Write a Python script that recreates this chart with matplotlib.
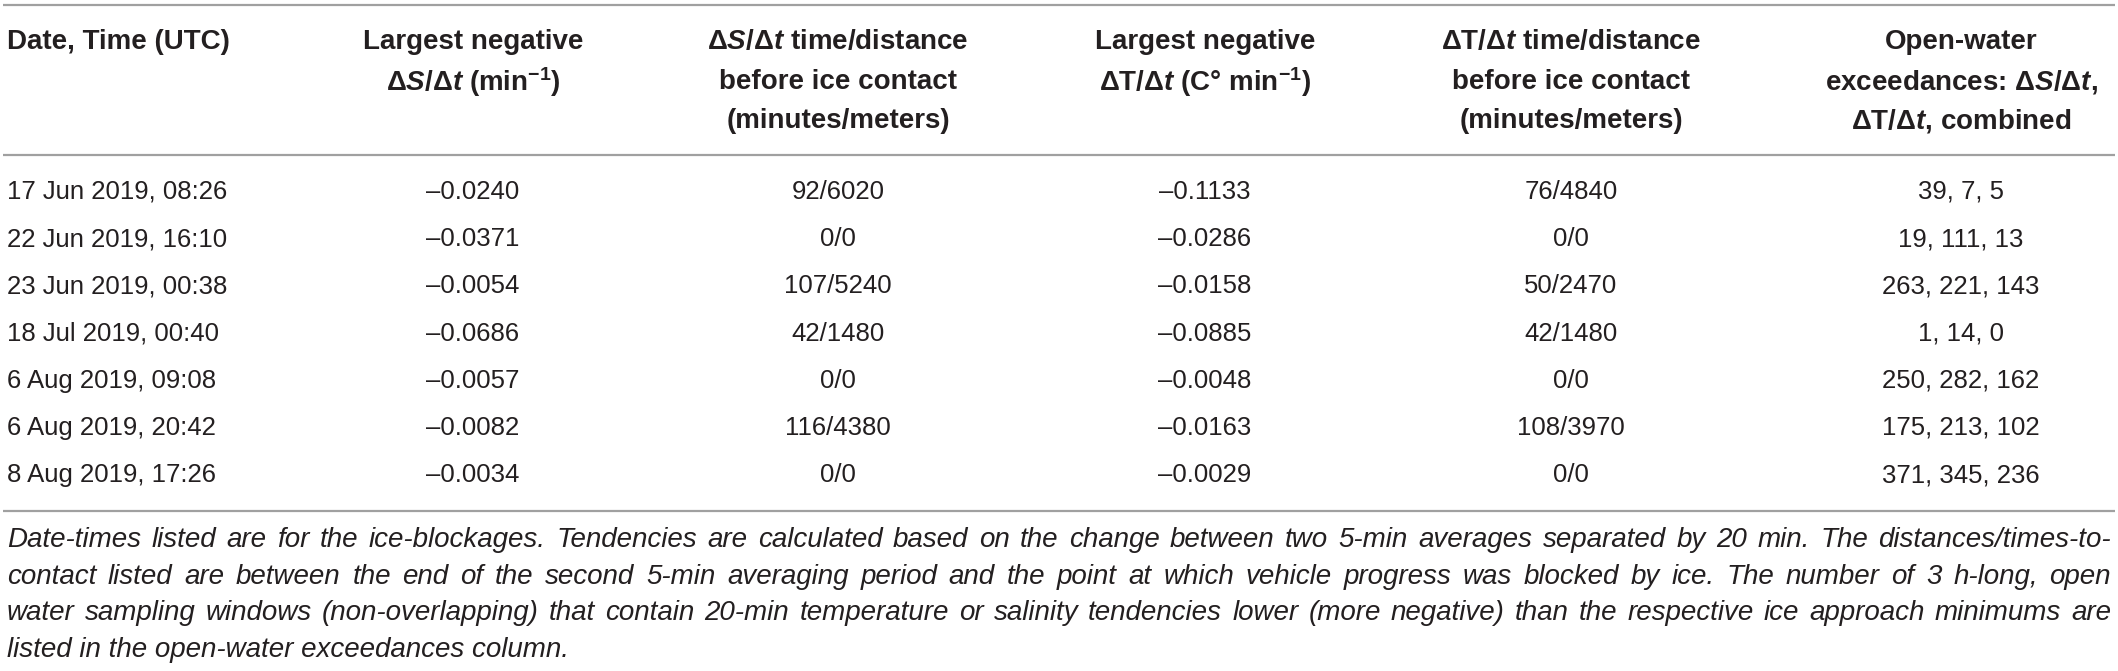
import matplotlib
matplotlib.use("Agg")
import matplotlib.pyplot as plt

plt.rcParams['font.family'] = ['Liberation Sans', 'DejaVu Sans']
plt.rcParams['mathtext.fontset'] = 'custom'
plt.rcParams['mathtext.rm'] = 'Liberation Sans:bold'
plt.rcParams['mathtext.it'] = 'Liberation Sans:bold:italic'
plt.rcParams['mathtext.bf'] = 'Liberation Sans:bold'

# table data
headers = [
    ["Date, Time (UTC)"],
    ["Largest negative", r"Δ$\mathit{S}$/Δ$\mathit{t}$ (min$^{-1}$)"],
    [r"Δ$\mathit{S}$/Δ$\mathit{t}$ time/distance", "before ice contact", "(minutes/meters)"],
    ["Largest negative", r"ΔT/Δ$\mathit{t}$ (C° min$^{-1}$)"],
    [r"ΔT/Δ$\mathit{t}$ time/distance", "before ice contact", "(minutes/meters)"],
    ["Open-water", r"exceedances: Δ$\mathit{S}$/Δ$\mathit{t}$,", r"ΔT/Δ$\mathit{t}$, combined"],
]
dates = ["17 Jun 2019, 08:26", "22 Jun 2019, 16:10", "23 Jun 2019, 00:38",
         "18 Jul 2019, 00:40", "6 Aug 2019, 09:08", "6 Aug 2019, 20:42",
         "8 Aug 2019, 17:26"]
ds_min = [-0.0240, -0.0371, -0.0054, -0.0686, -0.0057, -0.0082, -0.0034]
ds_before = ["92/6020", "0/0", "107/5240", "42/1480", "0/0", "116/4380", "0/0"]
dt_min = [-0.1133, -0.0286, -0.0158, -0.0885, -0.0048, -0.0163, -0.0029]
dt_before = ["76/4840", "0/0", "50/2470", "42/1480", "0/0", "108/3970", "0/0"]
exceed = ["39, 7, 5", "19, 111, 13", "263, 221, 143", "1, 14, 0",
          "250, 282, 162", "175, 213, 102", "371, 345, 236"]
caption = [
    "Date-times listed are for the ice-blockages. Tendencies are calculated based on the change between two 5-min averages separated by 20 min. The distances/times-to-",
    "contact listed are between the end of the second 5-min averaging period and the point at which vehicle progress was blocked by ice. The number of 3 h-long, open",
    "water sampling windows (non-overlapping) that contain 20-min temperature or salinity tendencies lower (more negative) than the respective ice approach minimums are",
    "listed in the open-water exceedances column.",
]

def fmt(v):
    return "\u2013" + "%.4f" % abs(v) if v < 0 else "%.4f" % v

W, H = 2118, 671
fig = plt.figure(figsize=(W / 100, H / 100), dpi=100)
ax = fig.add_axes([0, 0, 1, 1])
ax.set_xlim(0, W)
ax.set_ylim(H, 0)
ax.axis("off")

txt = "#231f20"
line_c = "#a0a0a0"
fs = 18.5
fs_head = 20
fs_cap = 20

# rules
for yy in [5, 155, 511]:
    ax.plot([3, W - 3], [yy, yy], color=line_c, lw=1.6, solid_capstyle="butt")

# column x positions
col_x = [7, 473, 838, 1205, 1571, 1961]
head_y = [42, 82, 121]
for i, lines in enumerate(headers):
    for j, s in enumerate(lines):
        ha = "left" if i == 0 else "center"
        ax.text(col_x[i], head_y[j], s, ha=ha, va="center", fontsize=fs_head,
                fontweight="bold", color=txt)

row_y0 = 192
row_dy = 47.2
cols = [dates, [fmt(v) for v in ds_min], ds_before, [fmt(v) for v in dt_min], dt_before, exceed]
for i, col in enumerate(cols):
    for r, s in enumerate(col):
        ha = "left" if i == 0 else "center"
        ax.text(col_x[i], row_y0 + r * row_dy, s, ha=ha, va="center",
                fontsize=fs, color=txt)

# caption, justified lines
fig.canvas.draw()
rend = fig.canvas.get_renderer()
cap_x0, cap_x1 = 7, 2111
cap_y0, cap_dy = 540, 36.7
for k, line in enumerate(caption):
    y = cap_y0 + k * cap_dy
    if k == len(caption) - 1:
        ax.text(cap_x0, y, line, ha="left", va="center", fontsize=fs_cap,
                style="italic", color=txt)
        continue
    words = line.split(" ")
    size = fs_cap
    while True:
        objs = [ax.text(0, y, w, ha="left", va="center", fontsize=size,
                        style="italic", color=txt) for w in words]
        widths = [o.get_window_extent(rend).width for o in objs]
        gap = (cap_x1 - cap_x0 - sum(widths)) / (len(words) - 1)
        if gap >= size * 0.18:
            break
        for o in objs:
            o.remove()
        size -= 0.25
    x = cap_x0
    for o, w in zip(objs, widths):
        o.set_x(x)
        x += w + gap

fig.savefig("out.png", dpi=100)
